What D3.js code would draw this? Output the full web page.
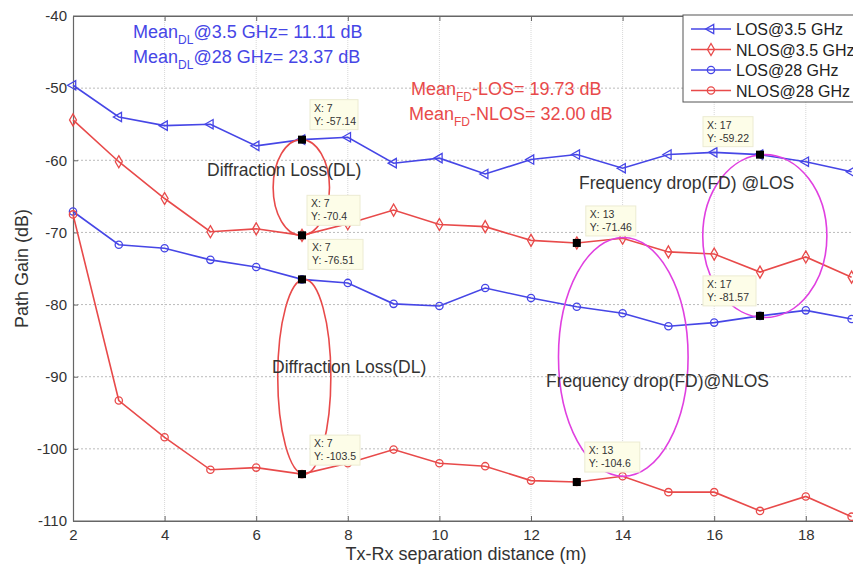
<!DOCTYPE html>
<html>
<head>
<meta charset="utf-8">
<script src="https://d3js.org/d3.v7.min.js"></script>
<style>
  body { margin: 0; background: #fff; }
  svg { display: block; font-family: "Liberation Sans", Arial, sans-serif; }
</style>
</head>
<body>
<div id="chart"></div>
<script>
// distances (m) and path gain (dB) per series
const distance = [2, 3, 4, 5, 6, 7, 8, 9, 10, 11, 12, 13, 14, 15, 16, 17, 18, 19]
const los35  = [-49.6, -54.0, -55.2, -55.0, -58.0, -57.14, -56.8, -60.4, -59.7, -61.9, -59.9, -59.2, -61.1, -59.2, -58.9, -59.22, -60.2, -61.6]
const nlos35 = [-54.4, -60.2, -65.3, -69.9, -69.5, -70.4, -68.8, -66.9, -68.9, -69.2, -71.1, -71.46, -70.8, -72.7, -73.0, -75.5, -73.4, -76.2]
const los28  = [-67.1, -71.7, -72.2, -73.8, -74.8, -76.51, -77.0, -79.9, -80.2, -77.7, -79.1, -80.3, -81.2, -83.0, -82.5, -81.57, -80.8, -82.0]
const nlos28 = [-67.5, -93.3, -98.4, -102.9, -102.6, -103.5, -102.0, -100.1, -102.0, -102.4, -104.4, -104.6, -103.8, -106.0, -106.0, -108.6, -106.6, -109.4]

const seriesNames = ["LOS@3.5 GHz", "NLOS@3.5 GHz", "LOS@28 GHz", "NLOS@28 GHz"]
const xTicks = [2, 4, 6, 8, 10, 12, 14, 16, 18]
const yTicks = [-110, -100, -90, -80, -70, -60, -50, -40]

// data tips (x, y) shown on the figure
const tipX = [7, 7, 7, 7, 13, 13, 17, 17]
const tipY = [-57.14, -70.4, -76.51, -103.5, -71.46, -104.6, -59.22, -81.57]
const tipLabelY = ["-57.14", "-70.4", "-76.51", "-103.5", "-71.46", "-104.6", "-59.22", "-81.57"]

const WIDTH = 853, HEIGHT = 565
const BLUE = "#4646e6", RED = "#e84a4a", MAGENTA = "#e040e0"

const svg = d3.select("#chart").append("svg")
  .attr("width", WIDTH).attr("height", HEIGHT)

const x = d3.scaleLinear().domain([2, 20]).range([73, 897.4])
const y = d3.scaleLinear().domain([-110, -40]).range([521, 16])

// grid
const grid = svg.append("g")
grid.selectAll(".vg").data(xTicks.slice(1)).join("line")
  .attr("x1", d => x(d)).attr("x2", d => x(d))
  .attr("y1", y(-40)).attr("y2", y(-110))
  .attr("stroke", "#d8d8d8").attr("stroke-dasharray", "1,1")
grid.selectAll(".hg").data(yTicks.slice(1, -1)).join("line")
  .attr("x1", x(2)).attr("x2", WIDTH)
  .attr("y1", d => y(d)).attr("y2", d => y(d))
  .attr("stroke", "#bbb").attr("stroke-dasharray", "2,2")

// axes (MATLAB style, inward ticks), plain hyphen for minus
const xAxis = svg.append("g").attr("transform", `translate(0, ${y(-110)})`)
  .call(d3.axisBottom(x).tickValues(xTicks).tickSizeInner(-5).tickSizeOuter(0).tickPadding(8).tickFormat(d => String(d)))
const topAxis = svg.append("g").attr("transform", `translate(0, ${y(-40)})`)
  .call(d3.axisTop(x).tickValues(xTicks).tickSizeInner(-5).tickSizeOuter(0).tickFormat(""))
const yAxis = svg.append("g").attr("transform", `translate(${x(2)}, 0)`)
  .call(d3.axisLeft(y).tickValues(yTicks).tickSizeInner(-5).tickSizeOuter(0).tickPadding(6).tickFormat(d => String(d)))

;[xAxis, topAxis, yAxis].forEach(a => {
  a.select(".domain").attr("stroke", "#666").attr("stroke-width", 1.2)
  a.selectAll(".tick line").attr("stroke", "#666")
  a.selectAll("text").attr("fill", "#333").attr("font-size", 15)
    .attr("font-family", "Liberation Sans, Arial, sans-serif")
})
// top frame continues to the right edge
svg.append("line").attr("x1", x(2)).attr("x2", WIDTH).attr("y1", y(-40)).attr("y2", y(-40))
  .attr("stroke", "#666").attr("stroke-width", 1.2)
svg.append("line").attr("x1", x(2)).attr("x2", WIDTH).attr("y1", y(-110)).attr("y2", y(-110))
  .attr("stroke", "#666").attr("stroke-width", 1.2)

svg.append("text")
  .attr("x", (x(2) + WIDTH) / 2 + 3).attr("y", 560)
  .attr("text-anchor", "middle").attr("font-size", 18).attr("fill", "#333")
  .text("Tx-Rx separation distance (m)")
svg.append("text")
  .attr("transform", `translate(28, ${y(-75)}) rotate(-90)`)
  .attr("text-anchor", "middle").attr("font-size", 18).attr("fill", "#333")
  .text("Path Gain (dB)")

// series
const triLeft = d3.symbol().type(d3.symbolTriangle).size(38)
const diamond = d3.symbol().type(d3.symbolDiamond).size(42)
const circle = d3.symbol().type(d3.symbolCircle).size(42)

const series = [
  { name: seriesNames[0], values: los35, color: BLUE, sym: triLeft, rot: -90 },
  { name: seriesNames[1], values: nlos35, color: RED, sym: diamond, rot: 0 },
  { name: seriesNames[2], values: los28, color: BLUE, sym: circle, rot: 0 },
  { name: seriesNames[3], values: nlos28, color: RED, sym: circle, rot: 0 }
]

const line = d3.line()
  .x((d, i) => x(distance[i]))
  .y(d => y(d))

series.forEach(s => {
  svg.append("path")
    .attr("fill", "none")
    .attr("stroke", s.color)
    .attr("stroke-width", 1.6)
    .attr("d", line(s.values))
  svg.append("g").selectAll("path").data(s.values).join("path")
    .attr("d", s.sym())
    .attr("transform", (d, i) => `translate(${x(distance[i])}, ${y(d)}) rotate(${s.rot})`)
    .attr("fill", "none").attr("stroke", s.color).attr("stroke-width", 1.3)
})

// ellipses (data coords)
const ellipses = [
  { x0: 6.37, x1: 7.6, yA: -57.14, yB: -70.4, color: RED },
  { x0: 6.47, x1: 7.63, yA: -76.51, yB: -103.5, color: RED },
  { x0: 12.6, x1: 15.43, yA: -70.7, yB: -103.8, color: MAGENTA },
  { x0: 15.75, x1: 18.46, yA: -59.22, yB: -81.8, color: MAGENTA }
]
svg.append("g").selectAll("ellipse").data(ellipses).join("ellipse")
  .attr("cx", d => (x(d.x0) + x(d.x1)) / 2)
  .attr("cy", d => (y(d.yA) + y(d.yB)) / 2)
  .attr("rx", d => (x(d.x1) - x(d.x0)) / 2)
  .attr("ry", d => (y(d.yB) - y(d.yA)) / 2)
  .attr("fill", "none").attr("stroke", d => d.color).attr("stroke-width", 1.6)

// data tips
const tipBox = [[8, -40, 48], [5, -40, 53], [6, -40, 55], [8, -39, 50], [9, -37, 50], [8, -40, 55], [-57, -38, 50], [-57, -40, 53]]
const tips = svg.append("g")
tipX.forEach((tx, i) => {
  const px = x(tx), py = y(tipY[i])
  const [dx, dy, w] = tipBox[i]
  const g = tips.append("g").attr("transform", `translate(${px + dx}, ${py + dy})`)
  g.append("rect").attr("width", w).attr("height", 30)
    .attr("fill", "#fdfde8").attr("stroke", "#ecebd2")
  g.append("text").attr("x", 4).attr("y", 12).attr("font-size", 10.5).attr("fill", "#333")
    .text(`X: ${tx}`)
  g.append("text").attr("x", 4).attr("y", 25).attr("font-size", 10.5).attr("fill", "#333")
    .text(`Y: ${tipLabelY[i]}`)
  tips.append("rect").attr("x", px - 4).attr("y", py - 4).attr("width", 8).attr("height", 8)
    .attr("fill", "#000")
})

// annotation texts
function subText(xp, yp, color, parts) {
  const t = svg.append("text").attr("x", xp).attr("y", yp)
    .attr("fill", color).attr("font-size", 18)
  parts.forEach(p => {
    if (p.sub) {
      t.append("tspan").attr("font-size", 12).attr("dy", 6).text(p.sub)
    } else {
      t.append("tspan").attr("dy", p.after ? -6 : 0).text(p.text)
    }
  })
}
subText(133, 38, BLUE, [{ text: "Mean" }, { sub: "DL" }, { text: "@3.5 GHz= 11.11 dB", after: true }])
subText(133, 63, BLUE, [{ text: "Mean" }, { sub: "DL" }, { text: "@28 GHz= 23.37 dB", after: true }])
subText(411, 95, RED, [{ text: "Mean" }, { sub: "FD" }, { text: "-LOS= 19.73 dB", after: true }])
subText(409, 120, RED, [{ text: "Mean" }, { sub: "FD" }, { text: "-NLOS= 32.00 dB", after: true }])

const notes = [
  { t: "Diffraction Loss(DL)", xp: 207, yp: 176 },
  { t: "Diffraction Loss(DL)", xp: 272, yp: 373 },
  { t: "Frequency drop(FD) @LOS", xp: 579, yp: 189 },
  { t: "Frequency drop(FD)@NLOS", xp: 546, yp: 387 }
]
svg.append("g").selectAll("text").data(notes).join("text")
  .attr("x", d => d.xp).attr("y", d => d.yp)
  .attr("font-size", 17.5).attr("fill", "#333")
  .text(d => d.t)

// legend
const leg = svg.append("g").attr("transform", "translate(683, 15)")
leg.append("rect").attr("width", 200).attr("height", 87)
  .attr("fill", "#fff").attr("stroke", "#555")
series.forEach((s, i) => {
  const ly = 14 + i * 20.5
  leg.append("line").attr("x1", 8).attr("x2", 48).attr("y1", ly).attr("y2", ly)
    .attr("stroke", s.color).attr("stroke-width", 1.6)
  leg.append("path").attr("d", s.sym())
    .attr("transform", `translate(28, ${ly}) rotate(${s.rot})`)
    .attr("fill", "none").attr("stroke", s.color).attr("stroke-width", 1.3)
  leg.append("text").attr("x", 53).attr("y", ly + 6)
    .attr("font-size", 16).attr("fill", "#222").text(s.name)
})
</script>
</body>
</html>
